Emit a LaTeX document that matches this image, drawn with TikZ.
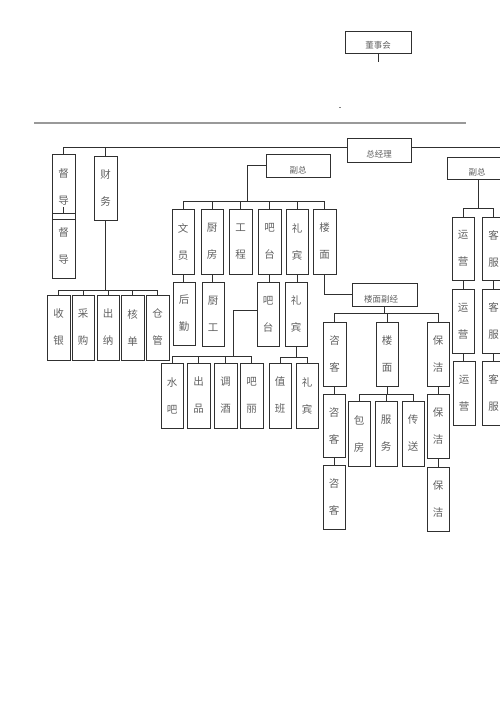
\documentclass[tikz,border=0pt]{standalone}
\usepackage{fontspec}
\newfontfamily\cjk{Noto Sans CJK SC}
\definecolor{txt}{HTML}{606060}
\definecolor{edge}{HTML}{303030}
\newcommand\mybox[6]{\node[bx, minimum width={#4pt-#2pt}, minimum height={#5pt-#3pt}] (#1) at ({(#2+#4)/2},{(#3+#5)/2}) {#6};}
\begin{document}
\begin{tikzpicture}[x=1pt,y=-1pt,
  bx/.style={draw=edge, line width=1pt, inner sep=0pt, text=txt, align=center,
    font=\cjk\fontsize{10.5}{27}\selectfont},
  hl/.style={text=txt, font=\cjk\fontsize{8.5}{10}\selectfont, inner sep=0pt},
  ln/.style={draw=edge, line width=0.9pt}]
\useasboundingbox (0,0) rectangle (500,707);
\clip (0,0) rectangle (500,707);
% top
\mybox{dsh}{345}{31}{411}{53}{}
\node[hl] (dshl) at (378,45) {董事会};
\coordinate (dshe) at (378,62);
\draw[ln] (dsh.south) -- (dshe);
\coordinate (dotA) at (339,107);
\coordinate (dotB) at (341,107);
\draw[gray, line width=0.8pt] (dotA) -- (dotB);
\coordinate (ruleA) at (34,123);
\coordinate (ruleB) at (466,123);
\draw[gray!80, line width=1.3pt] (ruleA) -- (ruleB);
% general manager
\mybox{zjl}{347}{138}{411}{162}{}
\node[hl] (zjll) at (379,154) {总经理};
\coordinate (tl) at (63,147);
\coordinate (re) at (505,147);
% left columns
\mybox{dd1}{52}{154}{75}{219}{督\\导}
\mybox{dd2}{52}{213}{75}{278}{督\\导}
\mybox{cw}{94}{156}{117}{220}{财\\务}
\draw[ln] (dd1.north) |- (zjl.west |- tl);
\draw[ln] (zjl.east |- tl) -- (re);
\draw[ln] (cw.north) -- (cw.north |- tl);
\draw[ln] (dd2.north) -- ++(0,-6);
% finance
\mybox{sy}{47}{295}{70}{360}{收\\银}
\mybox{cg}{72}{295}{94}{360}{采\\购}
\mybox{cn}{97}{295}{119}{360}{出\\纳}
\mybox{hd}{121}{295}{144}{360}{核\\单}
\mybox{cgu}{146}{295}{169}{360}{仓\\管}
\coordinate (fb) at (104,290);
\draw[ln] (cw.south) -- (cw.south |- fb);
\draw[ln] (sy.north) |- (cgu.north |- fb) -- (cgu.north);
\foreach \n in {cg,cn,hd} \draw[ln] (\n.north) -- (\n.north |- fb);
% left vice GM
\mybox{fz1}{266}{154}{330}{177}{}
\node[hl] (fz1l) at (298,170) {副总};
\coordinate (fzb) at (247,201);
\draw[ln] (fz1.west) -| (fzb);
\mybox{wy}{172}{209}{194}{274}{文\\员}
\mybox{cf}{201}{209}{223}{274}{厨\\房}
\mybox{gc}{229}{209}{252}{274}{工\\程}
\mybox{bt}{258}{209}{281}{274}{吧\\台}
\mybox{lb}{286}{209}{308}{274}{礼\\宾}
\mybox{lm}{313}{209}{336}{274}{楼\\面}
\draw[ln] (wy.north) |- (lm.north |- fzb) -- (lm.north);
\foreach \n in {cf,gc,bt,lb} \draw[ln] (\n.north) -- (\n.north |- fzb);
% second row
\mybox{hq}{173}{282}{195}{345}{后\\勤}
\mybox{cgg}{202}{282}{224}{346}{厨\\工}
\mybox{bt2}{257}{282}{279}{346}{吧\\台}
\mybox{lb2}{285}{282}{307}{346}{礼\\宾}
\draw[ln] (wy.south) -- (wy.south |- hq.north);
\draw[ln] (cf.south) -- (cf.south |- cgg.north);
\draw[ln] (bt.south) -- (bt.south |- bt2.north);
\draw[ln] (lb.south) -- (lb.south |- lb2.north);
% bar
\mybox{sb}{161}{363}{183}{428}{水\\吧}
\mybox{cp}{187}{363}{210}{428}{出\\品}
\mybox{tj}{214}{363}{237}{428}{调\\酒}
\mybox{bl}{240}{363}{263}{428}{吧\\丽}
\coordinate (bb) at (233,356);
\coordinate (bw) at (257,310);
\draw[ln] (bw) -| (bb);
\draw[ln] (sb.north) |- (bl.north |- bb) -- (bl.north);
\foreach \n in {cp,tj} \draw[ln] (\n.north) -- (\n.north |- bb);
% concierge
\mybox{zb}{269}{363}{291}{428}{值\\班}
\mybox{lb3}{296}{363}{318}{428}{礼\\宾}
\coordinate (lbb) at (294,357);
\draw[ln] (lb2.south) -- (lb2.south |- lbb);
\draw[ln] (zb.north) |- (lb3.north |- lbb) -- (lb3.north);
% floor manager
\mybox{lmf}{352}{283}{417}{306}{}
\node[hl] (lmfl) at (381,299) {楼面副经};
\draw[ln] (lm.south) |- (lmf.west);
\coordinate (mb) at (385,313);
\mybox{zk1}{323}{322}{346}{386}{咨\\客}
\mybox{lm2}{376}{322}{398}{386}{楼\\面}
\mybox{bj1}{427}{322}{449}{386}{保\\洁}
\draw[ln] (lmf.south) -- (lmf.south |- mb);
\draw[ln] (zk1.north) |- (bj1.north |- mb) -- (bj1.north);
\draw[ln] (lm2.north) -- (lm2.north |- mb);
\mybox{zk2}{323}{394}{345}{457}{咨\\客}
\mybox{zk3}{323}{465}{345}{529}{咨\\客}
\draw[ln] (zk2.north) -- (zk2.north |- zk1.south);
\draw[ln] (zk3.north) -- (zk3.north |- zk2.south);
\coordinate (lmb) at (386,394);
\mybox{bf}{348}{401}{370}{466}{包\\房}
\mybox{fw}{375}{401}{397}{466}{服\\务}
\mybox{cs}{402}{401}{424}{466}{传\\送}
\draw[ln] (lm2.south) -- (lm2.south |- lmb);
\draw[ln] (bf.north) |- (cs.north |- lmb) -- (cs.north);
\draw[ln] (fw.north) -- (fw.north |- lmb);
\mybox{bj2}{427}{394}{449}{458}{保\\洁}
\mybox{bj3}{427}{467}{449}{531}{保\\洁}
\draw[ln] (bj1.south) -- (bj2.north);
\draw[ln] (bj2.south) -- (bj3.north);
% right vice GM
\mybox{fz2}{447}{157}{507}{179}{}
\node[hl] (fz2l) at (477,172) {副总};
\coordinate (rb) at (478,208);
\draw[ln] (fz2.south -| rb) -- (rb);
\mybox{yy1}{452}{217}{474}{280}{运\\营}
\mybox{kf1}{482}{217}{505}{280}{客\\服}
\mybox{yy2}{452}{289}{474}{353}{运\\营}
\mybox{kf2}{482}{289}{505}{353}{客\\服}
\mybox{yy3}{453}{361}{475}{425}{运\\营}
\mybox{kf3}{482}{361}{505}{425}{客\\服}
\draw[ln] (yy1.north) |- (kf1.north |- rb) -- (kf1.north);
\draw[ln] (yy1.south) -- (yy1.south |- yy2.north);
\draw[ln] (yy2.south) -- (yy2.south |- yy3.north);
\draw[ln] (kf1.south) -- (kf2.north);
\draw[ln] (kf2.south) -- (kf3.north);
\end{tikzpicture}
\end{document}
